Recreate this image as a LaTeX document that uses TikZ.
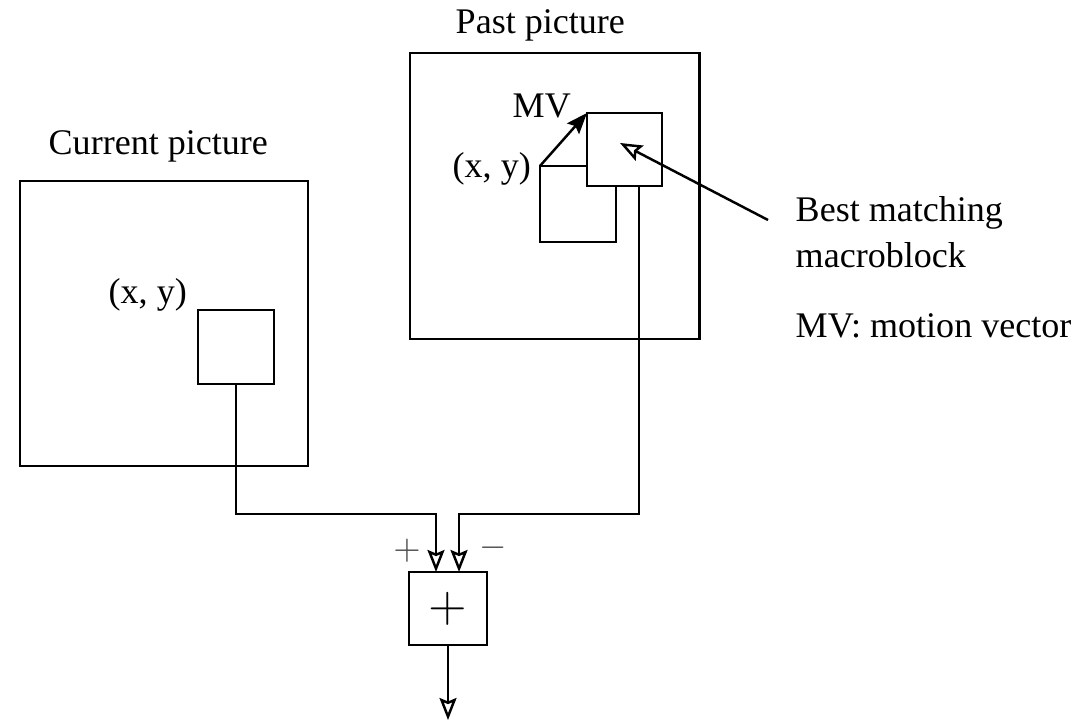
\documentclass[tikz,border=0pt]{standalone}
\usepackage{fontspec}
\setmainfont{Liberation Serif}
\usepackage{tikz}
\usetikzlibrary{arrows.meta}

\begin{document}
\begin{tikzpicture}[x=0.01cm,y=-0.01cm,font=\fontsize{10.25}{12}\selectfont,
  frame/.style={draw,line width=0.8pt,inner sep=0pt,outer sep=0pt},
  lbl/.style={inner sep=0pt,anchor=base west},
  flow/.style={line width=0.7pt,-{Stealth[open,length=2.2mm,width=1.7mm,inset=0.35mm]}}]
\useasboundingbox (0,0) rectangle (1083,722);
\node[frame,minimum width=2.88cm,minimum height=2.85cm] (cur) at (164,323.5) {};
\node[frame,minimum width=0.76cm,minimum height=0.74cm] (curblk) at (236,347) {};
\node[frame,minimum width=2.89cm,minimum height=2.86cm] (past) at (554.5,196) {};
\node[frame,minimum width=0.76cm,minimum height=0.76cm] (pastblk) at (578,204) {};
\node[frame,fill=white,minimum width=0.75cm,minimum height=0.73cm] (best) at (624.5,149.5) {};
\node[frame,minimum width=0.78cm,minimum height=0.73cm,font=\fontsize{15}{15}\selectfont] (add) at (448,608.5) {$+$};
\node[lbl] (curlbl) at (48,155) {Current picture};
\node[lbl] (pastlbl) at (455,34) {Past picture};
\node[lbl] (curxy) at (108,304) {(x, y)};
\node[lbl] (pastxy) at (452,178) {(x, y)};
\node[lbl] (mv) at (512,118) {MV};
\node[lbl] (bestlbl) at (795,222) {Best matching};
\node[lbl] (bestlbl2) at (795,268) {macroblock};
\node[lbl] (mvlbl) at (795,338) {MV: motion vector};
\node[text=black!70] (plus) at (407,551) {$+$};
\node[text=black!70] (minus) at (493,548) {$-$};
\coordinate (ptr) at (768,220);
\coordinate (bestpt) at (620,143);
\coordinate (out) at (448,720);
\draw[line width=0.7pt,-{Stealth[length=2.1mm,width=1.6mm,inset=0.35mm]}] (pastblk.north west) -- (best.north west);
\draw[flow] (ptr) -- (bestpt);
\draw[flow] (curblk.south) -- ++(0,130) -| ([xshift=-0.12cm]add.north);
\draw[flow] ([xshift=0.145cm]best.south) -- ++(0,328) -| ([xshift=0.11cm]add.north);
\draw[flow] (add.south) -- (out);
\end{tikzpicture}
\end{document}
